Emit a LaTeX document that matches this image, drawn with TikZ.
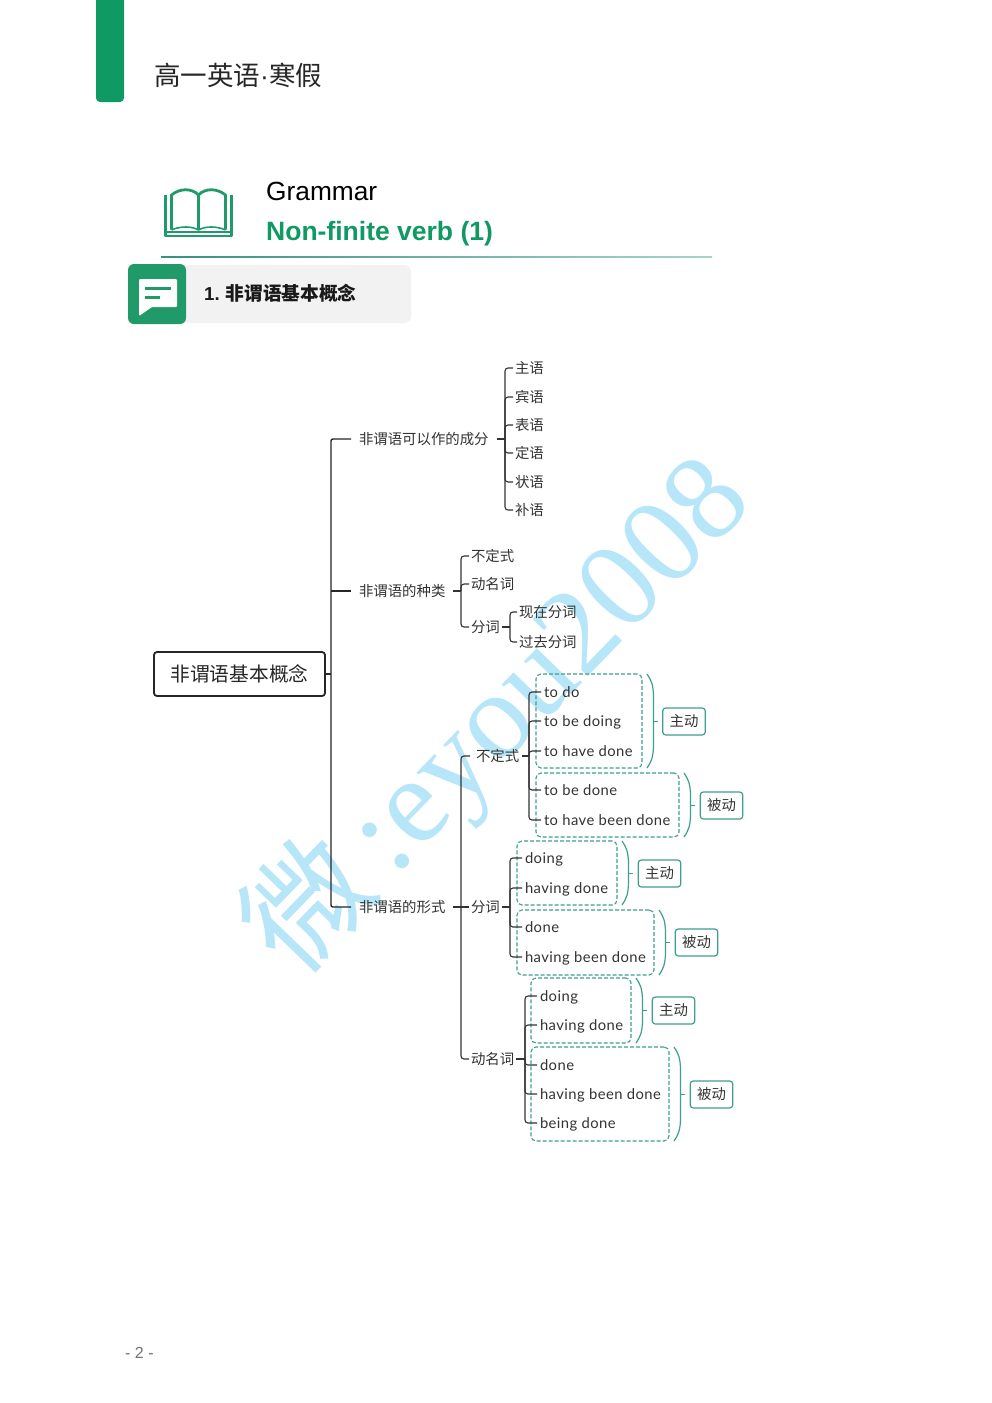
\documentclass[tikz,border=0pt]{standalone}
\usepackage{fontspec}
\setmainfont{Noto Sans CJK SC}
\newfontfamily\cjkwm{Noto Sans CJK SC}
\newfontfamily\arialish{Liberation Sans}
\newfontfamily\timesish{Liberation Serif}
\newfontfamily\latinleaf[LetterSpace=3]{Lato}
\definecolor{brandgreen}{HTML}{0F9A63}
\definecolor{sectiongreen}{HTML}{1F9A68}
\definecolor{tealline}{HTML}{3F9F8E}
\definecolor{inkdark}{HTML}{333333}
\definecolor{wmblue}{HTML}{B7E6F9}
\tikzset{
  txt/.style={inner ysep=0pt,inner xsep=2pt,outer sep=0pt,anchor=west,text height=12pt,text depth=2pt,font=\fontsize{14.4}{16}\selectfont,text=inkdark},
  branchtxt/.style={txt,inner xsep=8pt},
  wideleft/.style={txt,inner xsep=3pt},
  leaf/.style={txt,inner xsep=3pt,font=\latinleaf\fontsize{14.8}{16}\selectfont},
  link/.style={draw=inkdark,line width=1.1pt,rounded corners=3pt},
  trunk/.style={draw=black!85,line width=1.4pt,rounded corners=2pt},
  dbox/.style={draw=tealline,line width=1.1pt,dash pattern=on 4pt off 2pt,rounded corners=5pt,anchor=north west,inner sep=0pt,outer sep=0pt},
  tagbox/.style={draw=tealline,line width=1.2pt,rounded corners=3pt,minimum width=42.5pt,minimum height=27pt,inner sep=0pt,outer sep=0pt,text=inkdark,font=\fontsize{14.4}{16}\selectfont},
  curl/.style={draw=tealline,line width=1.2pt}
}
% bracket to the right of a dashed box, with a tick pointing at its tag
\newcommand\bracketto[2]{%
  \draw[curl] ([xshift=5pt]#1.north east) .. controls +(4,6) and +(0,-14) .. ([xshift=11.5pt,yshift=-24pt]#1.north east)
     -- ([xshift=11.5pt,yshift=24pt]#1.south east) .. controls +(0,14) and +(4,-6) .. ([xshift=5pt]#1.south east);
  \draw[curl] ([xshift=-10pt]#2.west) -- ([xshift=-5pt]#2.west);
}
\begin{document}
\begin{tikzpicture}[x=1pt,y=-1pt]
\useasboundingbox (0,0) rectangle (992,1403);
\fill[white] (0,0) rectangle (992,1403);

% watermark
\node[rotate=46,text=wmblue,inner sep=0pt,anchor=center,font=\timesish\fontsize{123}{125}\selectfont] (wm) at (498,715) {{\cjkwm 微}\hspace{0.15em}:eyou2008};

% header
\fill[brandgreen,rounded corners=4pt] (96,-10) rectangle (124,102);
\node[anchor=west,inner sep=0pt,font=\fontsize{26.5}{30}\selectfont,text=black!85] (title) at (154,75) {高一英语{\arialish ·}寒假};
\node[anchor=base west,inner sep=0pt,font=\arialish\fontsize{26.3}{28}\selectfont,text=black] (gram) at (266,200) {Grammar};
\node[anchor=base west,inner sep=0pt,font=\arialish\bfseries\fontsize{26.5}{28}\selectfont,text=brandgreen] (nfv) at (266,240) {Non-finite verb (1)};
\shade[left color=tealline!90!black,right color=tealline!45] (161,256.6) rectangle (712,257.8);

% book icon
\begin{scope}[draw=sectiongreen,line width=2.8pt,line join=round]
\draw (165.5,195) -- (165.5,236) -- (231.5,236) -- (231.5,195);
\draw (171.5,229.5) -- (171.5,195) .. controls (180,188) and (192,188) .. (198.5,195) .. controls (205,188) and (217,188) .. (225.5,195) -- (225.5,229.5);
\draw (198.5,195) -- (198.5,230);
\draw[line width=1.6pt] (171.5,230) .. controls (180,226) and (192,226) .. (198.5,230) .. controls (205,226) and (217,226) .. (225.5,230);
\draw[line width=1.8pt] (165.5,232) -- (231.5,232);
\end{scope}

% section heading
\fill[black!5,rounded corners=7pt] (170,265) rectangle (411,323);
\fill[sectiongreen,rounded corners=6pt] (128,264) rectangle (186,324);
\fill[white,rounded corners=1pt] (139,279) -- (177,279) -- (177,307) -- (152,307) -- (139,316) -- cycle;
\fill[sectiongreen] (145,286.5) rectangle (171,290);
\fill[sectiongreen] (145,295.5) rectangle (160,299);
\node[anchor=west,inner sep=0pt,font=\bfseries\fontsize{18.7}{20}\selectfont,text=black!90] (sect) at (204,293) {{\arialish 1.}\hspace{6pt}非谓语基本概念};

% root
\node[draw=black!85,line width=1.8pt,rounded corners=3pt,minimum width=171pt,minimum height=44pt,inner sep=0pt,outer sep=0pt,font=\fontsize{19.7}{22}\selectfont,text=black!85] (root) at (239.5,674) {非谓语基本概念};
\coordinate (hubroot) at (331,674);

% first level
\node[branchtxt] (b1) at (351,439) {非谓语可以作的成分};
\node[branchtxt] (b2) at (351,591) {非谓语的种类};
\node[branchtxt] (b3) at (351,907) {非谓语的形式};
\draw[trunk] (root.east) -- (hubroot);
\draw[trunk] (hubroot) |- (b1.west);
\draw[trunk] (hubroot) |- (b3.west);
\draw[trunk] (331,591) -- (b2.west);

% branch 1
\coordinate (hub1) at (505,439);
\draw[link] (b1.east) -- (hub1);
\foreach \nm/\yy/\tx in {s1/368/主语,s2/397/宾语,s3/425/表语,s4/453/定语,s5/482/状语,s6/510/补语}{
  \node[txt] (\nm) at (513,\yy) {\tx};
  \draw[link] (hub1) |- (\nm.west);
}

% branch 2
\coordinate (hub2) at (461,591);
\draw[link] (b2.east) -- (hub2);
\node[txt] (k1) at (469,556) {不定式};
\node[txt] (k2) at (469,584) {动名词};
\node[txt] (k3) at (469,627) {分词};
\foreach \nm in {k1,k2,k3}{\draw[link] (hub2) |- (\nm.west);}
\coordinate (hub23) at (510,627);
\draw[link] (k3.east) -- (hub23);
\node[txt] (p1) at (517,612) {现在分词};
\node[txt] (p2) at (517,642) {过去分词};
\foreach \nm in {p1,p2}{\draw[link] (hub23) |- (\nm.west);}

% branch 3
\coordinate (hub3) at (461,907);
\draw[link] (b3.east) -- (hub3);
\node[wideleft] (f1) at (473,756) {不定式};
\node[txt] (f2) at (469,907) {分词};
\node[txt] (f3) at (469,1059) {动名词};
\draw[link] ([xshift=-3pt]f1.west) -| (hub3);
\draw[link] (hub3) -- (f2.west);
\draw[link] (hub3) |- (f3.west);

% dashed groups
\node[dbox,minimum width=106pt,minimum height=94pt] (g1) at (536,674) {};
\node[dbox,minimum width=143pt,minimum height=64pt] (g2) at (536,773) {};
\node[dbox,minimum width=100pt,minimum height=64pt] (g3) at (517,841) {};
\node[dbox,minimum width=137pt,minimum height=65pt] (g4) at (517,910) {};
\node[dbox,minimum width=100pt,minimum height=65pt] (g5) at (531,978) {};
\node[dbox,minimum width=138pt,minimum height=94pt] (g6) at (531,1047) {};

% infinitive leaves
\coordinate (hubf1) at (529,756);
\draw[link] (f1.east) -- (hubf1);
\foreach \nm/\yy/\tx in {a1/692/to do,a2/721/to be doing,a3/751/to have done,a4/790/to be done,a5/820/to have been done}{
  \node[leaf] (\nm) at (541,\yy) {\tx};
  \draw[link] (hubf1) |- (\nm.west);
}
% participle leaves
\coordinate (hubf2) at (510,907);
\draw[link] (f2.east) -- (hubf2);
\foreach \nm/\yy/\tx in {c1/858/doing,c2/888/having done,c3/927/done,c4/957/having been done}{
  \node[leaf] (\nm) at (522,\yy) {\tx};
  \draw[link] (hubf2) |- (\nm.west);
}
% gerund leaves
\coordinate (hubf3) at (525,1059);
\draw[link] (f3.east) -- (hubf3);
\foreach \nm/\yy/\tx in {d1/996/doing,d2/1025/having done,d3/1065/done,d4/1094/having been done,d5/1123/being done}{
  \node[leaf] (\nm) at (537,\yy) {\tx};
  \draw[link] (hubf3) |- (\nm.west);
}

% tags
\node[tagbox] (t1) at (684,721.5) {主动};
\node[tagbox] (t2) at (721.5,805.5) {被动};
\node[tagbox] (t3) at (659.5,873.5) {主动};
\node[tagbox] (t4) at (696.5,942.5) {被动};
\node[tagbox] (t5) at (673.5,1010.5) {主动};
\node[tagbox] (t6) at (711.5,1094.5) {被动};
\bracketto{g1}{t1}
\bracketto{g2}{t2}
\bracketto{g3}{t3}
\bracketto{g4}{t4}
\bracketto{g5}{t5}
\bracketto{g6}{t6}

% page number
\node[anchor=west,inner sep=0pt,font=\arialish\fontsize{16}{17}\selectfont,text=black!55] (pg) at (125,1353) {- 2 -};
\end{tikzpicture}
\end{document}
